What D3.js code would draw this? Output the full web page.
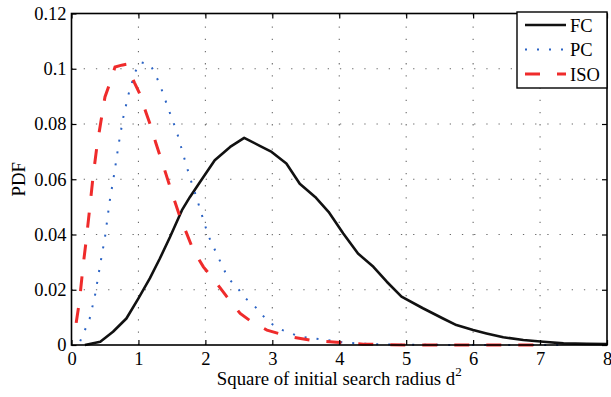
<!DOCTYPE html>
<html>
<head>
<meta charset="utf-8">
<script src="https://cdn.jsdelivr.net/npm/d3@7"></script>
<style>
  html, body { margin: 0; padding: 0; background: #fff; }
  svg { display: block; }
  text { font-family: "Liberation Serif", "Times New Roman", serif; fill: #000; }
</style>
</head>
<body>
<svg id="chart" width="611" height="397"></svg>
<script>
// ---- data ----
const xTicks = [0, 1, 2, 3, 4, 5, 6, 7, 8];
const xTickLabels = ["0", "1", "2", "3", "4", "5", "6", "7", "8"];
const yTicks = [0, 0.02, 0.04, 0.06, 0.08, 0.1, 0.12];
const yTickLabels = ["0", "0.02", "0.04", "0.06", "0.08", "0.1", "0.12"];
const seriesNames = ["FC", "PC", "ISO"];

const fcX = [0.2, 0.43, 0.62, 0.82, 1.0, 1.17, 1.32, 1.47, 1.65, 1.77, 1.92, 2.14, 2.37, 2.58, 2.82, 2.99, 3.21, 3.41, 3.64, 3.84, 4.06, 4.28, 4.51, 4.71, 4.93, 5.25, 5.55, 5.75, 6.0, 6.2, 6.45, 6.75, 7.05, 7.35, 7.7, 8.0];
const fcY = [0.0, 0.0012, 0.0048, 0.0096, 0.0169, 0.0241, 0.0313, 0.039, 0.0488, 0.0536, 0.059, 0.0669, 0.0717, 0.075, 0.072, 0.0699, 0.0657, 0.0584, 0.0536, 0.0482, 0.0404, 0.0331, 0.0283, 0.0229, 0.0175, 0.0133, 0.0096, 0.0072, 0.0054, 0.0042, 0.0028, 0.0018, 0.0012, 0.0006, 0.0004, 0.0003];

const pcX = [0.13, 0.2, 0.27, 0.35, 0.44, 0.5, 0.57, 0.63, 0.71, 0.77, 0.85, 0.95, 1.03, 1.18, 1.26, 1.33, 1.45, 1.57, 1.67, 1.77, 1.88, 2.04, 2.19, 2.34, 2.47, 2.57, 2.72, 2.94, 3.14, 3.41, 3.61, 3.81, 4.11, 4.5, 5.0, 6.0, 7.4];
const pcY = [0.0014, 0.0054, 0.0094, 0.0178, 0.0307, 0.039, 0.052, 0.0607, 0.0735, 0.082, 0.0906, 0.0988, 0.1024, 0.1014, 0.0976, 0.0936, 0.0853, 0.0774, 0.0689, 0.0606, 0.0524, 0.0398, 0.0319, 0.0241, 0.0211, 0.0175, 0.0145, 0.0084, 0.0055, 0.003, 0.0024, 0.0018, 0.0008, 0.0003, 0.0001, 0, 0];

const isoX = [0.07, 0.12, 0.17, 0.22, 0.27, 0.32, 0.38, 0.44, 0.5, 0.57, 0.65, 0.75, 0.82, 0.94, 1.03, 1.11, 1.19, 1.26, 1.37, 1.52, 1.62, 1.72, 1.82, 1.97, 2.17, 2.32, 2.52, 2.69, 2.92, 3.26, 3.61, 3.96, 4.36, 5.0, 6.0, 7.0];
const isoY = [0.008, 0.016, 0.028, 0.038, 0.049, 0.0605, 0.072, 0.081, 0.0898, 0.0946, 0.1006, 0.1013, 0.1016, 0.095, 0.0904, 0.0843, 0.0789, 0.0731, 0.065, 0.0536, 0.0464, 0.0404, 0.0343, 0.0283, 0.0223, 0.0175, 0.0114, 0.0084, 0.0054, 0.003, 0.0016, 0.001, 0.0003, 0, 0, 0];

// ---- layout ----
const L = 71.5, R = 607, T = 13.5, B = 345;
const svg = d3.select("#chart");
const x = d3.scaleLinear().domain([0, 8]).range([L, R]);
const y = d3.scaleLinear().domain([0, 0.12]).range([B, T]);

// grid
const grid = svg.append("g").attr("stroke", "#6a6a6a").attr("stroke-width", 1.1)
  .attr("stroke-dasharray", "1.3,10.9").attr("fill", "none");
xTicks.slice(1, -1).forEach(v => {
  grid.append("line").attr("x1", x(v)).attr("x2", x(v)).attr("y1", B).attr("y2", T);
});
yTicks.slice(1, -1).forEach(v => {
  grid.append("line").attr("x1", L).attr("x2", R).attr("y1", y(v)).attr("y2", y(v));
});

// series
const line = d3.line().x(d => x(d[0])).y(d => y(d[1]));
const zip = (a, b) => a.map((v, i) => [v, b[i]]);

svg.append("path").datum(zip(fcX, fcY)).attr("d", line)
  .attr("fill", "none").attr("stroke", "#111").attr("stroke-width", 2.6)
  .attr("stroke-linejoin", "round");
svg.append("path").datum(zip(pcX, pcY)).attr("d", line)
  .attr("fill", "none").attr("stroke", "#2b63c4").attr("stroke-width", 2)
  .attr("stroke-dasharray", "2,10");
svg.append("path").datum(zip(isoX, isoY)).attr("d", line)
  .attr("fill", "none").attr("stroke", "#ef2b2b").attr("stroke-width", 3)
  .attr("stroke-dasharray", "15,17");

// axes
const fs = 18.5;
const xAxis = svg.append("g").attr("transform", `translate(0,${B})`)
  .call(d3.axisBottom(x).tickValues(xTicks).tickFormat((d, i) => xTickLabels[i]).tickSize(-5).tickPadding(7));
const xAxisTop = svg.append("g").attr("transform", `translate(0,${T})`)
  .call(d3.axisTop(x).tickValues(xTicks).tickFormat("").tickSize(-5));
const yAxis = svg.append("g").attr("transform", `translate(${L},0)`)
  .call(d3.axisLeft(y).tickValues(yTicks).tickFormat((d, i) => yTickLabels[i]).tickSize(-5).tickPadding(5));
const yAxisR = svg.append("g").attr("transform", `translate(${R},0)`)
  .call(d3.axisRight(y).tickValues(yTicks).tickFormat("").tickSize(-5));
[xAxis, xAxisTop, yAxis, yAxisR].forEach(g => {
  g.select(".domain").remove();
  g.selectAll(".tick line").attr("stroke", "#000").attr("stroke-width", 1.2);
  g.selectAll("text").attr("font-size", fs).attr("font-family", "Liberation Serif, Times New Roman, serif").attr("fill", "#1a1a1a");
});
svg.append("rect").attr("x", L).attr("y", T).attr("width", R - L).attr("height", B - T)
  .attr("fill", "none").attr("stroke", "#000").attr("stroke-width", 1.6);

// axis titles
const xl = svg.append("text").attr("x", (L + R) / 2).attr("y", 385)
  .attr("text-anchor", "middle").attr("font-size", 18.8).attr("fill", "#1a1a1a");
xl.append("tspan").text("Square of initial search radius d");
xl.append("tspan").attr("dy", -9).attr("font-size", 13).text("2");

svg.append("text").attr("transform", `translate(25,${(T + B) / 2}) rotate(-90)`)
  .attr("text-anchor", "middle").attr("font-size", 18.8).attr("fill", "#1a1a1a").text("PDF");

// legend
const lg = svg.append("g");
lg.append("rect").attr("x", 517).attr("y", 12).attr("width", 90).attr("height", 76)
  .attr("fill", "#fff").attr("stroke", "#000").attr("stroke-width", 1.4);
const legStyles = [
  { c: "#111", w: 2.6, d: null },
  { c: "#2b63c4", w: 2, d: "2,10" },
  { c: "#ef2b2b", w: 3, d: "15,17" }
];
const legY = d3.scalePoint().domain(seriesNames).range([25, 74]);
seriesNames.forEach((name, i) => {
  const yy = legY(name);
  const ln = lg.append("line").attr("x1", 525).attr("x2", 566).attr("y1", yy).attr("y2", yy)
    .attr("stroke", legStyles[i].c).attr("stroke-width", legStyles[i].w);
  if (legStyles[i].d) ln.attr("stroke-dasharray", legStyles[i].d);
  lg.append("text").attr("x", 570).attr("y", yy + 6.5).attr("font-size", fs)
    .attr("fill", "#1a1a1a").text(name);
});
</script>
</body>
</html>
